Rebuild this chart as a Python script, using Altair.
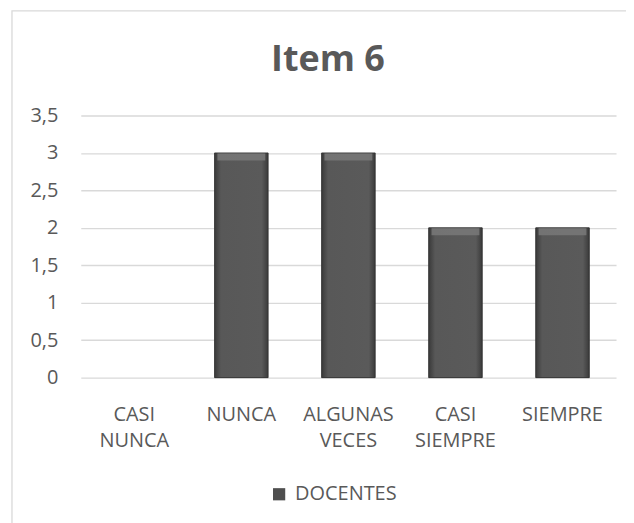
import altair as alt
import pandas as pd

categories = ["CASI NUNCA", "NUNCA", "ALGUNAS VECES", "CASI SIEMPRE", "SIEMPRE"]
values = [0, 3, 3, 2, 2]
series_name = "DOCENTES"
title_text = "Item 6"

df = pd.DataFrame({"cat": categories, "value": values, "series": [series_name] * len(categories)})

FONT = "Open Sans"
GRAY = "#595959"

x_enc = alt.X("cat:N", sort=categories, title=None,
              scale=alt.Scale(domain=categories, paddingInner=0.5, paddingOuter=0.25),
              axis=alt.Axis(labelAngle=0, domain=False, ticks=False, grid=False,
                            labelExpr="split(datum.label, ' ')", labelLineHeight=26,
                            labelPadding=27, labelFont=FONT, labelFontSize=20,
                            labelColor=GRAY))
y_enc = alt.Y("value:Q", title=None,
              scale=alt.Scale(domain=[0, 3.5], nice=False),
              axis=alt.Axis(values=[0, 0.5, 1, 1.5, 2, 2.5, 3, 3.5], domain=False, ticks=False,
                            labelExpr="replace(format(datum.value, '~g'), '.', ',')", labelPadding=23,
                            labelFont=FONT, labelFontSize=20, labelColor=GRAY,
                            grid=True, gridColor="#d9d9d9", gridWidth=1.3))

base = alt.Chart(df)

border = base.mark_rect(fill=None, stroke="#d9d9d9", strokeWidth=1.3, clip=False).encode(
    x=alt.value(-69), x2=alt.value(580), y=alt.value(-105), y2=alt.value(440)
).transform_filter("datum.cat == 'NUNCA'")

title = base.mark_text(font=FONT, fontSize=36, fontWeight="bold", color=GRAY,
                       align="center", baseline="alphabetic").encode(
    x=alt.value(248), y=alt.value(-45), text=alt.value(title_text)
).transform_filter("datum.cat == 'NUNCA'")

pos = base.transform_filter("datum.value > 0")

legend_bars = pos.mark_bar().encode(
    x=x_enc, y=y_enc,
    color=alt.Color("series:N", title=None,
                    scale=alt.Scale(range=["#4f4f4f"]),
                    legend=alt.Legend(orient="none", legendX=189, legendY=370,
                                      symbolType="square", symbolSize=150,
                                      labelFont=FONT, labelFontSize=20, labelColor=GRAY,
                                      padding=0, labelOffset=6))
)

grad = alt.Gradient(gradient="linear", x1=0, y1=0, x2=1, y2=0,
                    stops=[alt.GradientStop(color="#3a3a3a", offset=0),
                           alt.GradientStop(color="#585858", offset=0.12),
                           alt.GradientStop(color="#5a5a5a", offset=0.88),
                           alt.GradientStop(color="#3a3a3a", offset=1)])

grad_bars = pos.mark_bar(fill=grad, stroke="#2e2e2e", strokeWidth=0.8).encode(x=x_enc, y=y_enc)

top_bevel = pos.mark_tick(color="#777777", thickness=7, size=48, yOffset=4, opacity=0.9).encode(
    x=x_enc, y=y_enc
)

chart = alt.layer(border, title, legend_bars, grad_bars, top_bevel).properties(
    width=537, height=263,
    padding={"left": 73, "top": 107, "right": 10, "bottom": 145},
    autosize=alt.AutoSizeParams(type="none"),
).configure_view(stroke=None)

chart.save("out.html", embed_options={"renderer": "svg", "actions": False})
